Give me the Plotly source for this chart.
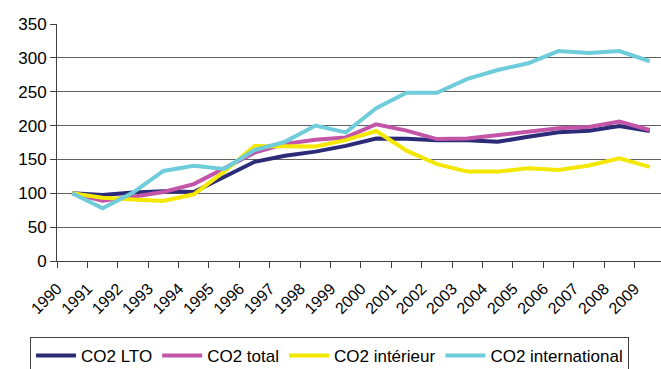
import plotly.graph_objects as go

# Index of CO2 emissions (base 100 in 1990)
years = [str(y) for y in range(1990, 2010)]

co2_lto = [100, 97.5, 101, 103, 102, 124.5, 146.5, 155.5, 161.5, 170, 181, 180.5, 178.5, 178.5, 176, 183.5, 190, 192.5, 199.5, 192]
co2_total = [100, 89, 95, 102, 113.5, 137, 160, 173, 179, 182.5, 202, 192.5, 180, 181, 186, 190.5, 196, 198, 206, 193.5]
co2_interieur = [100, 93.5, 91, 88.5, 98.5, 132, 170, 170, 169, 178.5, 192, 163, 143, 132, 132, 137, 134.5, 141, 151.5, 139]
co2_international = [100, 78, 101, 133, 140.5, 136, 164, 176, 200, 190, 225.5, 248.5, 248.5, 269, 282, 292, 310, 307, 310, 295]

series_names = ["CO2 LTO", "CO2 total", "CO2 intérieur", "CO2 international"]
series_values = [co2_lto, co2_total, co2_interieur, co2_international]
series_colors = ["#2B2B78", "#C255A8", "#F4E800", "#6ECCDB"]

y_ticks = [0, 50, 100, 150, 200, 250, 300, 350]

FONT = "Liberation Sans, Arial, sans-serif"
W, H = 661, 369

fig = go.Figure()
for name, vals, color in zip(series_names, series_values, series_colors):
    fig.add_trace(go.Scatter(
        x=years, y=vals, name=name, mode="lines",
        line=dict(color=color, width=4),
    ))

fig.update_layout(
    width=W, height=H,
    margin=dict(l=57, r=0, t=24, b=108, autoexpand=False),
    paper_bgcolor="white", plot_bgcolor="white",
    font=dict(family=FONT, size=17, color="black"),
    showlegend=True,
    legend=dict(
        orientation="h",
        xref="container", yref="container",
        x=30 / W, xanchor="left",
        y=(H - 337) / H, yanchor="top",
        bordercolor="#404040", borderwidth=1,
        font=dict(family=FONT, size=17, color="black"),
        itemwidth=40,
        tracegroupgap=0,
    ),
)

fig.update_xaxes(
    type="category",
    range=[-0.5, 19.37],
    tickson="boundaries",
    ticks="outside", ticklen=6, tickcolor="#404040",
    tickangle=-45,
    tickfont=dict(family=FONT, size=16),
    ticklabelstandoff=11,
    ticklabelshift=-15,
    showline=True, linecolor="#404040", linewidth=1,
    showgrid=False,
    automargin=False,
)

fig.update_yaxes(
    range=[0, 350],
    tickvals=y_ticks,
    ticks="outside", ticklen=6, tickcolor="#404040",
    tickfont=dict(family=FONT, size=17),
    showline=True, linecolor="#404040", linewidth=1,
    showgrid=True, gridcolor="#606060", gridwidth=1,
    zeroline=False,
    automargin=False,
)

fig.write_html("out.html")
